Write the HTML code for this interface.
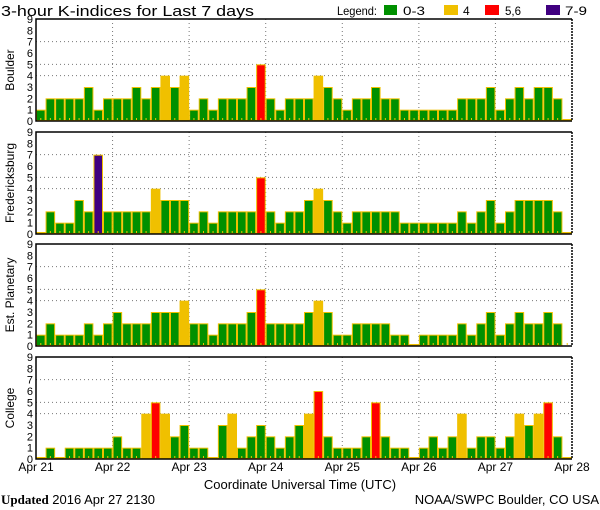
<!DOCTYPE html>
<html><head><meta charset="utf-8"><style>
html,body{margin:0;padding:0;background:#fff;width:600px;height:510px;overflow:hidden}
svg{display:block}
text{font-family:"Liberation Sans",sans-serif;fill:#000}
</style></head><body>
<svg id="chart" width="600" height="510" viewBox="0 0 600 510" xmlns="http://www.w3.org/2000/svg">
<text x="1" y="16" font-size="15" textLength="253" lengthAdjust="spacingAndGlyphs">3-hour K-indices for Last 7 days</text>
<g>
<text x="337" y="15" font-size="12" textLength="40" lengthAdjust="spacingAndGlyphs">Legend:</text>
<rect x="384" y="5" width="13" height="10" fill="#009000"/>
<text x="403" y="15" font-size="12" textLength="22" lengthAdjust="spacingAndGlyphs">0-3</text>
<rect x="444" y="5" width="14" height="10" fill="#f0c000"/>
<text x="463" y="15" font-size="12">4</text>
<rect x="485" y="5" width="14" height="10" fill="#ff0000"/>
<text x="505" y="15" font-size="12" textLength="16" lengthAdjust="spacingAndGlyphs">5,6</text>
<rect x="546" y="5" width="14" height="10" fill="#400080"/>
<text x="565" y="15" font-size="12" textLength="22" lengthAdjust="spacingAndGlyphs">7-9</text>
</g>
<g id="panels"></g>
<text x="300" y="489" font-size="13" text-anchor="middle">Coordinate Universal Time (UTC)</text>
<text x="1" y="504" font-size="13"><tspan font-family="Liberation Serif" font-weight="bold">Updated</tspan> 2016 Apr 27 2130</text>
<text x="599" y="504" font-size="13" text-anchor="end">NOAA/SWPC Boulder, CO USA</text>
</svg>
<script>
const stations = ["Boulder","Fredericksburg","Est. Planetary","College"];
const boulder = [1,2,2,2,2,3,1,2, 2,2,3,2,3,4,3,4, 1,2,1,2,2,2,3,5, 2,1,2,2,2,4,3,2, 1,2,2,3,2,2,1,1, 1,1,1,1,2,2,2,3, 1,2,3,2,3,3,2,0];
const fredericksburg = [0,2,1,1,3,2,7,2, 2,2,2,2,4,3,3,3, 1,2,1,2,2,2,2,5, 2,1,2,2,3,4,3,2, 1,2,2,2,2,2,1,1, 1,1,1,1,2,1,2,3, 1,2,3,3,3,3,2,0];
const planetary = [1,2,1,1,1,2,1,2, 3,2,2,2,3,3,3,4, 2,2,1,2,2,2,3,5, 2,2,2,2,3,4,3,1, 1,2,2,2,2,1,1,0, 1,1,1,1,2,1,2,3, 1,2,3,2,2,3,2,null];
const college = [0,1,0,1,1,1,1,1, 2,1,1,4,5,4,2,3, 1,1,0,3,4,1,2,3, 2,1,2,3,4,6,2,1, 1,1,2,5,2,1,1,0, 1,2,1,2,4,1,2,2, 1,2,4,3,4,5,2,0];
const dayLabels = ["Apr 21","Apr 22","Apr 23","Apr 24","Apr 25","Apr 26","Apr 27","Apr 28"];
const yTicks = [0,1,2,3,4,5,6,7,8,9];
const gridLevels = [4,5,7];

const series = [boulder,fredericksburg,planetary,college];
const panelTops = [19,132,244,357];
const PH = 102, X0 = 36, X1 = 572, N = 56;
const NS = "http://www.w3.org/2000/svg";
const root = document.getElementById('panels');
function mk(tag, attrs, parent){const e=document.createElementNS(NS,tag);for(const k in attrs)e.setAttribute(k,attrs[k]);(parent||root).appendChild(e);return e;}
const xs = i => X0 + i*(X1-X0)/N;
const bw = (X1-X0)/N;
function color(v){return v>=7?"#400080":v>=5?"#ff0000":v===4?"#f0c000":"#009000";}

series.forEach((data,p)=>{
  const top = panelTops[p], bot = top+PH;
  const ys = v => bot - v*PH/9;
  const g = mk('g',{});
  
  
  gridLevels.forEach(l=>{
    const ln = mk('line',{x1:X0,x2:X1,y1:ys(l),y2:ys(l),stroke:"#777","stroke-dasharray":"1 3"},g);
    
    
  });
  for(let d=1; d<7; d++){
    const ln = mk('line',{x1:xs(d*8),x2:xs(d*8),y1:top,y2:bot,stroke:"#777","stroke-dasharray":"1 3"},g);
    
    
  }
  data.forEach((v,i)=>{
    if(v===null){
      const t = mk('rect',{x:xs(i)+bw/2-0.5,y:bot-3,width:1,height:2,fill:"#f0c000"},g);
      
      
      return;
    }
    const h = v===0 ? 2 : bot-ys(v);
    const r = mk('rect',{x:xs(i)+0.5,y:bot-h+0.5,width:bw-1,height:Math.max(h-1,1),fill:color(v),stroke:"#f0c000","stroke-width":1},g);
    
    
    if(v>0 && v!==4){
      const t = mk('rect',{x:xs(i)+bw/2-0.5,y:bot-3,width:1,height:2,fill:"#f0c000"},g);
      
      
    }
  });
  const f1 = mk('path',{d:`M${X1} ${top} L${X0} ${top} L${X0} ${bot} L${X1} ${bot}`,fill:"none",stroke:"#000","stroke-width":1.5},g);
  
  
  const f2 = mk('line',{x1:X1,x2:X1,y1:top,y2:bot,stroke:"#000","stroke-width":1.5,"stroke-dasharray":"2 1"},g);
  
  
  yTicks.forEach(t=>{
    const tx = mk('text',{x:33,y:ys(t)+4,"font-size":11,"text-anchor":"end"},g);
    tx.textContent = t;
    
    
  });
  const cy = top+PH/2;
  const lab = mk('text',{x:0,y:0,"font-size":12,"text-anchor":"middle",transform:`translate(14 ${cy}) rotate(-90)`},g);
  lab.textContent = stations[p];
  
  
});
dayLabels.forEach((d,i)=>{
  const tx = mk('text',{x:xs(i*8),y:471,"font-size":12,"text-anchor":"middle"});
  tx.textContent = d;
  
  
});
</script>
</body></html>
